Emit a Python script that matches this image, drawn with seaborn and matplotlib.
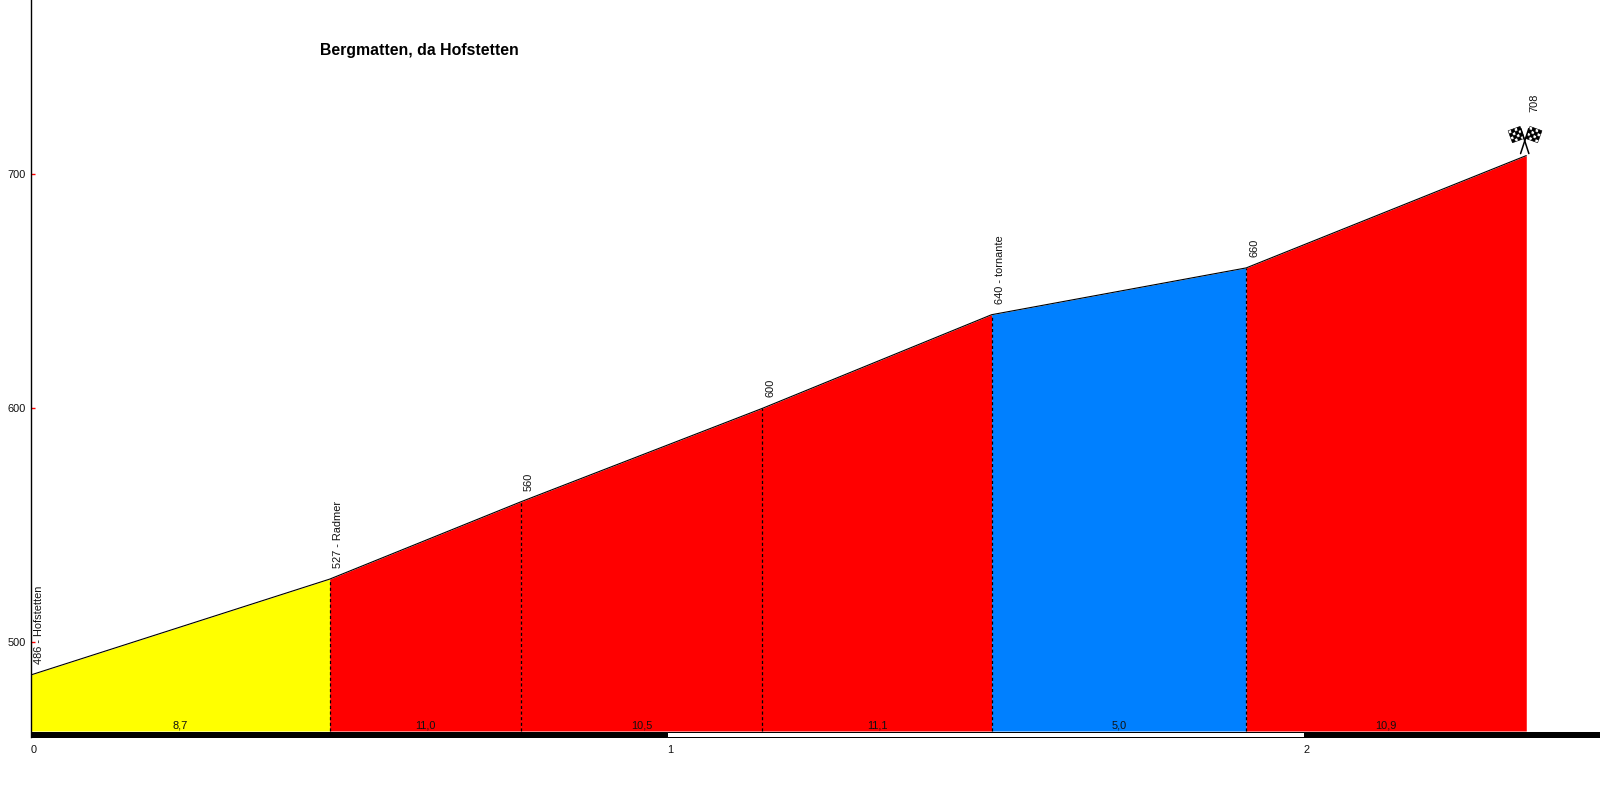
import matplotlib
matplotlib.use("Agg")
import matplotlib.pyplot as plt
import numpy as np
import pandas as pd
import seaborn as sns

km = [0, 0.47, 0.77, 1.15, 1.51, 1.91, 2.35]
alt = [486, 527, 560, 600, 640, 660, 708]
point_labels = ["486 - Hofstetten", "527 - Radmer", "560", "600", "640 - tornante", "660", "708"]
grades = ["8,7", "11,0", "10,5", "11,1", "5,0", "10,9"]
seg_colors = ["#ffff00", "#ff0000", "#ff0000", "#ff0000", "#0080ff", "#ff0000"]
dashed_at = [0.47, 0.77, 1.15, 1.51, 1.91]
y_ticks = [500, 600, 700]
km_ticks = [0, 1, 2]
bar_colors = ["black", "white", "black"]
title = "Bergmatten, da Hofstetten"

W, H = 1600, 800
PX_KM = 636.5
PX_M = 2.34
X0 = 30.5
Y500 = 642.3
BAR_TOP = 731
BAR_BOT = 737
FS = 7.9

sns.set_theme(style="white")
plt.rcParams["font.family"] = ["Liberation Sans", "DejaVu Sans"]


def px_x(p):
    return (p - X0) / PX_KM


def px_y(p):
    return 500 - (p - Y500) / PX_M


fig = plt.figure(figsize=(W / 100, H / 100), dpi=100)
ax = fig.add_axes([X0 / W, 1 - BAR_BOT / H, 1 - X0 / W, BAR_BOT / H])
ax.set_xlim(0, px_x(W))
ax.set_ylim(px_y(BAR_BOT), px_y(0))

base = px_y(BAR_TOP)
for i, c in enumerate(seg_colors):
    ax.fill_between(km[i:i + 2], alt[i:i + 2], base, color=c, lw=0, zorder=1)
    ax.annotate(grades[i], ((km[i] + km[i + 1]) / 2, base), xytext=(0, 1), textcoords="offset pixels",
                ha="center", va="bottom", fontsize=FS, color="#111111", zorder=4)

for x in dashed_at:
    y = alt[km.index(x)]
    ax.plot([x, x], [base, y], color="black", lw=0.9, ls=(0, (2.5, 2)), zorder=2)

profile = pd.DataFrame({"km": km, "alt": alt})
sns.lineplot(data=profile, x="km", y="alt", ax=ax, color="black", lw=0.8, zorder=3)

# scale bar along the bottom, alternating per km
edges = km_ticks + [px_x(W) + 0.01]
for i, c in enumerate(bar_colors):
    ax.barh(px_y(BAR_BOT - 0.5), edges[i + 1] - edges[i], height=5 / PX_M, left=edges[i], align="edge",
            color=c, edgecolor="black", lw=0.72, zorder=3, clip_on=False)

for i, (x, y, lab) in enumerate(zip(km, alt, point_labels)):
    dy = 44 if i == len(km) - 1 else 11
    ax.annotate(lab, (x, y), xytext=(8, dy), textcoords="offset pixels", rotation=90,
                ha="center", va="bottom", fontsize=FS, color="#111111", zorder=5)

ax.set_xlabel("")
ax.set_ylabel("")
ax.set_xticks(km_ticks)
ax.set_xticklabels([])
for k in km_ticks:
    ax.annotate(str(k), (k, px_y(BAR_BOT)), xytext=(0, -8), textcoords="offset pixels",
                ha="left", va="top", fontsize=FS, color="#111111", annotation_clip=False)
ax.tick_params(axis="x", length=0)
ax.set_yticks(y_ticks)
ax.set_yticklabels([str(v) for v in y_ticks], fontsize=FS, color="#111111")
ax.tick_params(axis="y", direction="in", length=3, width=1, color="#ff0000", pad=3.4, left=True)
for s in ["top", "right", "bottom"]:
    ax.spines[s].set_visible(False)
ax.spines["left"].set_color("black")
ax.spines["left"].set_linewidth(1.0)

fig.text(320 / W, 1 - 50 / H, title, fontsize=11.45, fontweight="bold", color="black",
         ha="left", va="center")

# finish flags above the last point, drawn in a small pixel box
tip_x = X0 + km[-1] * PX_KM
tip_y = Y500 - (alt[-1] - 500) * PX_M
ic = fig.add_axes([(tip_x - 20) / W, 1 - (tip_y + 3) / H, 40 / W, 36 / H])
ic.set_xlim(-20, 20)
ic.set_ylim(-3, 33)
ic.axis("off")
ic.plot([-5.7, 2.5], [2, 27], color="black", lw=1.1)
ic.plot([2.6, -5.5], [2, 27], color="black", lw=1.1)
for cx0, ang in [(-10, 20), (7.5, -20)]:
    t = np.deg2rad(ang)
    for row in range(4):
        for col in range(4):
            px = (col - 1.5) * 3.2
            py = (row - 1.5) * 3.2
            rx = cx0 + px * np.cos(t) - py * np.sin(t)
            ry = 21 + px * np.sin(t) + py * np.cos(t)
            ic.add_patch(plt.Rectangle((rx - 1.6, ry - 1.6), 3.2, 3.2, angle=ang,
                                       rotation_point="center",
                                       facecolor="black" if (row + col) % 2 == 0 else "white",
                                       edgecolor="black", lw=0.4))

fig.savefig("out.png", dpi=100)
